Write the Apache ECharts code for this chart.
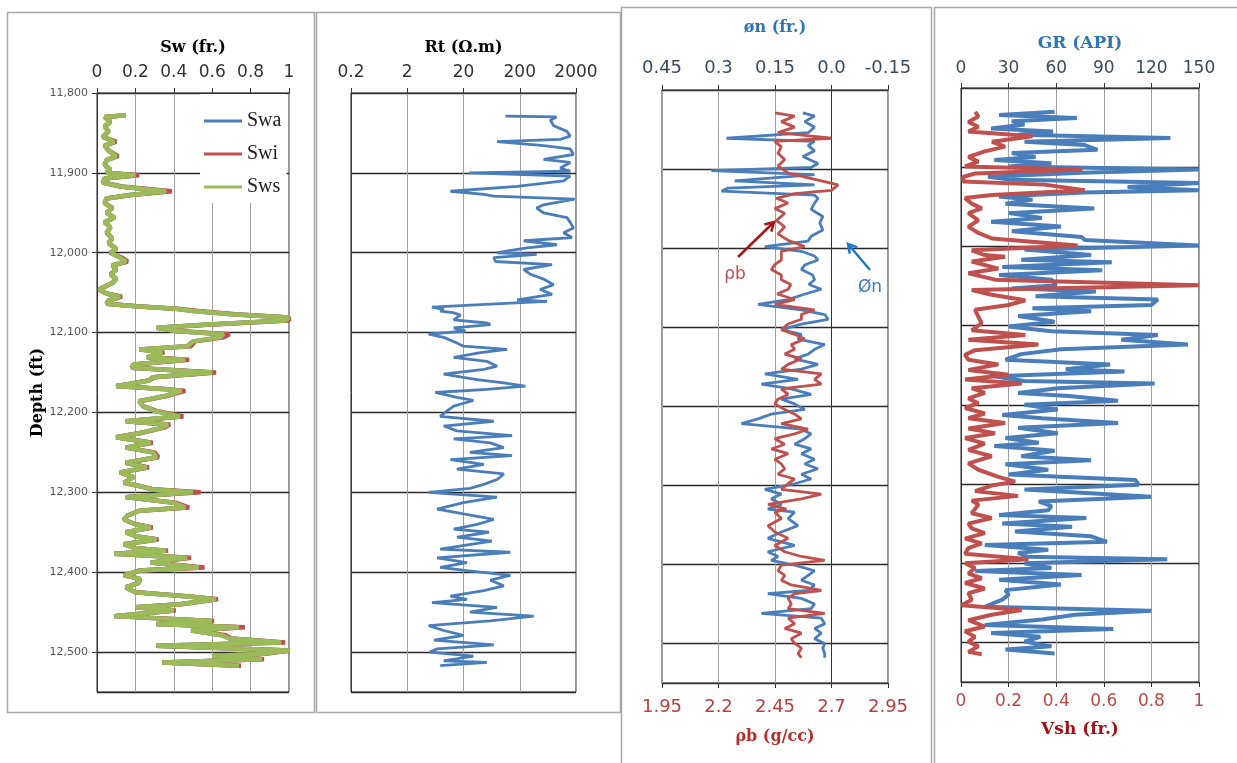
<!DOCTYPE html>
<html><head><meta charset="utf-8">
<script src="https://cdn.jsdelivr.net/npm/echarts@6.0.0/dist/echarts.min.js"></script>
<style>html,body{margin:0;padding:0;background:#fff}#chart{width:1237px;height:763px}</style>
</head><body><div id="chart"></div>
<script>
// ---------- data ----------
const swDepth = [11828,11830,11836,11842,11848,11855,11861,11866,11872,11879,11884,11890,11896,11900,11903,11907,11912,11917,11923,11928,11932,11938,11944,11950,11956,11962,11968,11975,11982,11988,11995,12000,12006,12011,12016,12021,12027,12033,12038,12046,12051,12055,12060,12064,12067,12070,12073,12077,12081,12085,12090,12094,12098,12102,12106,12111,12117,12121,12125,12131,12134,12140,12144,12150,12156,12160,12167,12171,12173,12179,12186,12192,12198,12205,12211,12215,12219,12225,12231,12238,12244,12250,12256,12263,12269,12275,12281,12288,12292,12296,12300,12306,12313,12319,12323,12329,12334,12340,12344,12350,12355,12359,12365,12370,12373,12377,12382,12388,12394,12398,12404,12408,12413,12419,12425,12430,12434,12440,12444,12448,12455,12461,12465,12469,12473,12479,12483,12488,12492,12498,12502,12505,12509,12513,12517];
const swaValues = [0.15,0.04,0.07,0.04,0.06,0.03,0.09,0.04,0.06,0.10,0.05,0.04,0.07,0.05,0.20,0.04,0.03,0.12,0.36,0.16,0.05,0.04,0.08,0.05,0.09,0.04,0.07,0.05,0.08,0.06,0.10,0.07,0.12,0.15,0.08,0.10,0.07,0.10,0.08,0.01,0.05,0.12,0.06,0.05,0.20,0.40,0.50,0.70,1.00,0.98,0.58,0.31,0.41,0.66,0.64,0.50,0.47,0.22,0.34,0.26,0.46,0.19,0.18,0.60,0.29,0.27,0.10,0.36,0.44,0.36,0.22,0.24,0.30,0.43,0.15,0.37,0.34,0.24,0.10,0.28,0.15,0.29,0.31,0.15,0.26,0.12,0.19,0.14,0.22,0.28,0.50,0.15,0.40,0.46,0.22,0.16,0.14,0.20,0.28,0.15,0.20,0.31,0.14,0.20,0.36,0.09,0.47,0.28,0.53,0.22,0.14,0.22,0.22,0.15,0.20,0.46,0.62,0.43,0.20,0.40,0.09,0.60,0.31,0.74,0.49,0.65,0.69,0.96,0.31,1.00,0.86,0.60,0.86,0.34,0.74];
const swiValues = [0.15,0.04,0.07,0.04,0.06,0.03,0.10,0.04,0.06,0.11,0.05,0.04,0.07,0.05,0.22,0.04,0.03,0.13,0.39,0.17,0.05,0.04,0.08,0.05,0.09,0.04,0.07,0.05,0.08,0.06,0.10,0.07,0.13,0.16,0.08,0.10,0.07,0.10,0.08,0.01,0.05,0.13,0.06,0.05,0.21,0.42,0.53,0.72,1.00,1.00,0.60,0.32,0.42,0.69,0.66,0.51,0.49,0.22,0.35,0.26,0.48,0.19,0.18,0.62,0.30,0.27,0.10,0.37,0.46,0.37,0.22,0.24,0.31,0.45,0.15,0.38,0.35,0.24,0.10,0.29,0.15,0.30,0.32,0.15,0.27,0.12,0.19,0.14,0.22,0.29,0.54,0.15,0.41,0.48,0.22,0.16,0.14,0.20,0.29,0.15,0.20,0.32,0.14,0.20,0.37,0.09,0.49,0.28,0.56,0.22,0.14,0.22,0.22,0.15,0.20,0.47,0.63,0.44,0.20,0.41,0.09,0.61,0.31,0.77,0.50,0.67,0.70,0.98,0.31,1.00,0.88,0.61,0.87,0.34,0.75];
const swsValues = [0.15,0.04,0.07,0.04,0.06,0.03,0.09,0.04,0.06,0.10,0.05,0.04,0.07,0.05,0.20,0.04,0.03,0.12,0.36,0.16,0.05,0.04,0.08,0.05,0.09,0.04,0.07,0.05,0.08,0.06,0.10,0.07,0.12,0.15,0.08,0.10,0.07,0.10,0.08,0.01,0.05,0.12,0.06,0.05,0.20,0.40,0.50,0.70,1.00,0.98,0.58,0.31,0.41,0.66,0.64,0.50,0.47,0.22,0.34,0.26,0.46,0.19,0.18,0.60,0.29,0.27,0.10,0.36,0.44,0.36,0.22,0.24,0.30,0.43,0.15,0.37,0.34,0.24,0.10,0.28,0.15,0.29,0.31,0.15,0.26,0.12,0.19,0.14,0.22,0.28,0.50,0.15,0.40,0.46,0.22,0.16,0.14,0.20,0.28,0.15,0.20,0.31,0.14,0.20,0.36,0.09,0.47,0.28,0.53,0.22,0.14,0.22,0.22,0.15,0.20,0.46,0.62,0.43,0.20,0.40,0.09,0.60,0.31,0.74,0.49,0.65,0.69,0.96,0.31,1.00,0.86,0.60,0.86,0.34,0.74];

const rtDepth = [11829,11830,11834,11841,11848,11854,11858,11861,11866,11870,11877,11883,11887,11894,11898,11900,11904,11910,11917,11923,11927,11929,11933,11940,11944,11950,11956,11962,11969,11975,11981,11985,11990,11994,12000,12002,12006,12011,12015,12021,12027,12033,12040,12046,12052,12059,12061,12065,12068,12071,12073,12075,12078,12084,12088,12090,12094,12098,12102,12106,12113,12117,12121,12125,12131,12136,12142,12146,12152,12159,12163,12167,12171,12175,12181,12185,12192,12198,12205,12211,12217,12223,12229,12233,12238,12244,12250,12254,12259,12265,12271,12277,12284,12290,12295,12300,12306,12313,12321,12327,12334,12340,12346,12350,12356,12361,12371,12375,12382,12388,12394,12398,12404,12410,12417,12423,12430,12434,12438,12444,12450,12455,12461,12467,12473,12479,12485,12491,12496,12500,12505,12511,12513,12517];
const rtValues = [111,900,700,800,1380,1580,1050,79,530,1580,1800,530,1580,1050,1580,25,1580,1200,180,11.7,46,69,1900,530,400,530,1380,1580,1800,1200,1700,235,920,270,79,400,69,74,750,235,310,530,800,460,750,180,610,40,5.5,8.9,7.7,13,17.6,13.4,52,60,13.4,21.6,4.8,8.9,15.3,20,119,40,13.4,52,79,46,8.9,35,104,251,52,6.3,15.3,30,13.4,10.2,7.7,69,8.9,15.3,146,13.4,60,104,26,146,11.7,46,15.3,104,79,46,26,4.8,79,20,6.8,20,69,35,13.4,57,15.3,64,7.7,136,6.8,23,7.7,23,136,60,104,46,11.7,23,5.5,79,26,353,60,4.8,8.9,20,6,69,6.8,5,30,8.9,52,7.7];

const phiDepth = [11829,11833,11840,11847,11854,11861,11865,11870,11877,11884,11893,11898,11902,11907,11915,11920,11924,11928,11933,11937,11943,11951,11960,11968,11977,11985,11991,11998,12004,12010,12015,12021,12027,12034,12040,12046,12052,12058,12065,12071,12078,12084,12090,12096,12103,12109,12115,12122,12128,12134,12140,12147,12153,12159,12166,12172,12178,12185,12191,12197,12204,12210,12216,12222,12229,12235,12241,12248,12254,12260,12267,12273,12279,12286,12292,12298,12305,12311,12317,12324,12330,12334,12342,12351,12359,12367,12376,12384,12390,12395,12401,12408,12414,12420,12426,12433,12437,12443,12450,12456,12462,12468,12475,12481,12487,12494,12500,12506,12513,12518];
const phiValues = [0.076,0.045,0.071,0.045,0.062,0.279,0.045,0.062,0.045,0.076,0.036,0.054,0.319,0.045,0.257,0.045,0.275,0.292,0.045,0.036,0.045,0.054,0.023,0.031,0.023,0.054,0.062,0.177,0.080,0.045,0.036,0.070,0.080,0.050,0.045,0.060,0.027,0.070,0.115,0.195,0.080,0.018,0.009,0.080,0.133,0.080,0.089,0.018,0.045,0.062,0.098,0.036,0.080,0.177,0.089,0.186,0.107,0.054,0.133,0.098,0.071,0.160,0.195,0.239,0.080,0.054,0.071,0.098,0.054,0.080,0.045,0.071,0.036,0.080,0.054,0.098,0.177,0.133,0.160,0.133,0.169,0.098,0.115,0.089,0.133,0.169,0.098,0.169,0.142,0.160,0.098,0.045,0.062,0.080,0.045,0.062,0.169,0.080,0.045,0.054,0.186,0.027,0.018,0.045,0.027,0.045,0.018,0.023,0.018,0.018];

const rhoDepth = [11829,11833,11840,11847,11854,11861,11865,11872,11880,11888,11896,11905,11915,11920,11927,11931,11937,11943,11950,11956,11965,11973,11982,11990,11998,12004,12015,12021,12027,12034,12040,12046,12052,12058,12065,12071,12078,12084,12090,12096,12103,12109,12115,12122,12128,12134,12140,12147,12153,12159,12166,12172,12178,12185,12191,12197,12204,12210,12216,12222,12229,12235,12241,12248,12254,12260,12267,12273,12279,12286,12292,12298,12305,12311,12317,12324,12330,12334,12342,12351,12359,12367,12376,12384,12390,12395,12401,12408,12414,12420,12426,12433,12437,12443,12450,12456,12462,12468,12475,12481,12487,12494,12500,12506,12513,12518];
const rhoValues = [2.450,2.537,2.478,2.537,2.463,2.699,2.449,2.478,2.463,2.493,2.463,2.508,2.655,2.729,2.699,2.537,2.456,2.508,2.449,2.493,2.456,2.493,2.463,2.508,2.581,2.478,2.478,2.449,2.434,2.478,2.478,2.520,2.508,2.460,2.537,2.449,2.625,2.567,2.567,2.508,2.478,2.537,2.581,2.522,2.537,2.493,2.567,2.508,2.478,2.655,2.625,2.655,2.478,2.508,2.463,2.449,2.493,2.537,2.567,2.478,2.596,2.537,2.449,2.493,2.434,2.508,2.449,2.478,2.493,2.463,2.537,2.508,2.478,2.655,2.567,2.419,2.500,2.449,2.478,2.419,2.449,2.508,2.449,2.493,2.567,2.670,2.478,2.463,2.493,2.478,2.522,2.655,2.537,2.508,2.522,2.508,2.670,2.508,2.537,2.493,2.567,2.522,2.537,2.567,2.552,2.567];

const grDepth = [11830,11834,11838,11842,11846,11851,11855,11859,11863,11868,11872,11878,11882,11887,11891,11895,11899,11903,11907,11912,11916,11920,11925,11929,11932,11937,11941,11946,11952,11958,11964,11969,11975,11981,11988,11992,11999,12004,12011,12017,12020,12026,12030,12036,12042,12049,12053,12057,12063,12067,12074,12078,12082,12088,12095,12101,12107,12112,12118,12124,12130,12136,12143,12149,12155,12158,12164,12170,12173,12179,12185,12189,12195,12200,12206,12213,12217,12223,12229,12236,12242,12248,12252,12258,12265,12270,12275,12282,12288,12295,12301,12307,12316,12322,12328,12333,12339,12343,12350,12354,12360,12366,12373,12377,12383,12387,12392,12395,12400,12406,12410,12415,12421,12427,12434,12440,12446,12455,12460,12465,12471,12478,12483,12488,12493,12499,12505,12509,12514];
const grValues = [59,24,73,32,40,19,58,36,132,40,78,86,32,47,21,57,30,150,76,17,32,150,105,150,78,24,45,28,84,30,51,19,63,32,76,78,150,40,82,38,95,26,89,24,57,60,32,85,47,124,120,45,82,36,59,30,57,124,101,143,63,38,28,94,66,103,21,40,122,61,36,68,99,40,61,26,51,99,36,61,28,49,21,59,38,82,28,55,30,110,112,40,120,49,57,55,24,79,26,70,34,82,92,15,55,36,42,130,40,57,9,76,24,63,28,30,26,15,120,72,51,15,96,19,50,40,57,28,59];

const vshDepth = [11830,11836,11843,11849,11855,11861,11868,11874,11880,11887,11893,11899,11903,11908,11912,11918,11922,11929,11935,11939,11946,11952,11958,11967,11975,11983,11990,11999,12005,12011,12013,12019,12028,12034,12042,12049,12055,12061,12068,12074,12080,12089,12097,12106,12112,12118,12124,12131,12137,12143,12149,12156,12162,12168,12173,12179,12185,12192,12198,12204,12211,12217,12223,12230,12236,12242,12249,12257,12265,12274,12282,12291,12297,12302,12309,12315,12321,12326,12337,12343,12350,12356,12362,12369,12375,12381,12388,12395,12400,12406,12413,12419,12425,12432,12438,12446,12453,12459,12465,12472,12480,12486,12493,12499,12505,12512,12515];
const vshValues = [0.06,0.073,0.031,0.073,0.031,0.30,0.13,0.185,0.10,0.031,0.073,0.017,0.51,0.06,0.01,0.01,0.35,0.52,0.13,0.017,0.045,0.087,0.031,0.073,0.031,0.073,0.13,0.49,0.045,0.10,0.185,0.045,0.157,0.031,0.143,1.0,0.045,0.129,0.27,0.20,0.059,0.073,0.087,0.045,0.27,0.031,0.325,0.059,0.017,0.031,0.157,0.031,0.20,0.017,0.255,0.045,0.10,0.031,0.073,0.017,0.10,0.031,0.185,0.031,0.143,0.017,0.10,0.031,0.129,0.031,0.073,0.157,0.227,0.129,0.059,0.24,0.045,0.073,0.045,0.129,0.031,0.045,0.10,0.017,0.087,0.031,0.017,0.283,0.017,0.059,0.031,0.087,0.017,0.10,0.031,0.045,0.003,0.255,0.129,0.031,0.10,0.017,0.059,0.031,0.073,0.031,0.087];

const rtTickValues = [0.2, 2, 20, 200, 2000];
const rhoTickValues = [1.95, 2.2, 2.45, 2.7, 2.95];

// ---------- chart ----------
const BLUE = '#4a7ebb', RED = '#c0504d', GREEN = '#9bbb59';
const pairs = (vals, depths) => depths.map((d, i) => [vals[i], d]);
const SANS = 'DejaVu Sans', SERIF = 'DejaVu Serif';

function depthAxis(g, withLabels) {
  const a = {
    gridIndex: g, type: 'value', inverse: true, min: 11800, max: 12550, interval: 100,
    axisLine: { show: true, lineStyle: { color: '#333', width: 1 } },
    axisTick: { show: withLabels, length: 5, lineStyle: { color: '#333' } },
    axisLabel: { show: withLabels, showMaxLabel: false, fontSize: 11, color: '#555', fontFamily: SANS, margin: 9 },
    splitLine: { show: true, lineStyle: { color: '#2b2b2b', width: 1.3 } }
  };
  if (withLabels) {
    a.name = 'Depth (ft)'; a.nameLocation = 'middle'; a.nameGap = 44; a.nameRotate = 90;
    a.nameTextStyle = { fontFamily: SERIF, fontWeight: 'bold', fontSize: 16, color: '#000' };
  }
  return a;
}
function valAxis(o) {
  return Object.assign({
    type: 'value', nameLocation: 'middle',
    axisLine: { show: true, lineStyle: { color: '#333' } },
    axisTick: { show: true, length: 5, lineStyle: { color: '#333' } },
    splitLine: { show: true, lineStyle: { color: '#a0a0a0', width: 1 } }
  }, o);
}
const gridStyle = { show: true, borderColor: '#2b2b2b', borderWidth: 1, backgroundColor: 'transparent' };

const option = {
  backgroundColor: '#fff',
  animation: false,
  grid: [
    Object.assign({ left: 97, top: 93, width: 192, height: 599 }, gridStyle),
    Object.assign({ left: 351, top: 93, width: 225, height: 599 }, gridStyle),
    Object.assign({ left: 662, top: 90, width: 226, height: 593 }, gridStyle),
    Object.assign({ left: 961, top: 88, width: 238, height: 594 }, gridStyle)
  ],
  xAxis: [
    valAxis({ gridIndex: 0, position: 'top', min: 0, max: 1, interval: 0.2,
      name: 'Sw (fr.)', nameGap: 37,
      nameTextStyle: { fontFamily: SERIF, fontWeight: 'bold', fontSize: 16, color: '#000' },
      axisLabel: { fontFamily: SANS, fontSize: 17, color: '#333', margin: 12 } }),
    valAxis({ gridIndex: 1, type: 'log', logBase: 10, position: 'top', min: 0.2, max: 2000,
      name: 'Rt (\u03A9.m)', nameGap: 37,
      nameTextStyle: { fontFamily: SERIF, fontWeight: 'bold', fontSize: 16, color: '#000' },
      axisTick: { show: true, length: 5, lineStyle: { color: '#333' }, customValues: rtTickValues },
      axisLabel: { fontFamily: SANS, fontSize: 17, color: '#333', margin: 12, customValues: rtTickValues,
        formatter: v => String(+(+v).toPrecision(3)) } }),
    valAxis({ gridIndex: 2, position: 'top', min: -0.15, max: 0.45, interval: 0.15, inverse: true,
      name: '\u00F8n (fr.)', nameGap: 54,
      nameTextStyle: { fontFamily: SERIF, fontWeight: 'bold', fontSize: 16, color: '#2e75b6' },
      axisLabel: { fontFamily: SANS, fontSize: 18, color: '#3c4a60', margin: 13,
        formatter: v => Math.abs(v) < 1e-9 ? '0.0' : String(+(+v).toFixed(2)) } }),
    valAxis({ gridIndex: 2, position: 'bottom', min: 1.95, max: 2.95,
      name: '\u03C1b (g/cc)', nameGap: 46,
      nameTextStyle: { fontFamily: SERIF, fontWeight: 'bold', fontSize: 16, color: '#b5302c' },
      splitLine: { show: false },
      axisTick: { show: true, length: 5, lineStyle: { color: '#333' }, customValues: rhoTickValues },
      axisLabel: { fontFamily: SANS, fontSize: 18, color: '#b5403d', margin: 15, customValues: rhoTickValues,
        formatter: v => String(+(+v).toFixed(2)) } }),
    valAxis({ gridIndex: 3, position: 'top', min: 0, max: 150, interval: 30,
      name: 'GR (API)', nameGap: 36,
      nameTextStyle: { fontFamily: SERIF, fontWeight: 'bold', fontSize: 17, color: '#2e75b6' },
      axisLabel: { fontFamily: SANS, fontSize: 17, color: '#3b4b5e', margin: 11 } }),
    valAxis({ gridIndex: 3, position: 'bottom', min: 0, max: 1, interval: 0.2,
      name: 'Vsh (fr.)', nameGap: 39,
      nameTextStyle: { fontFamily: SERIF, fontWeight: 'bold', fontSize: 17, color: '#a50f15' },
      splitLine: { show: false },
      axisLabel: { fontFamily: SANS, fontSize: 17, color: '#b94a48', margin: 11 } })
  ],
  yAxis: [depthAxis(0, true), depthAxis(1, false), depthAxis(2, false), depthAxis(3, false)],
  legend: {
    data: ['Swa', 'Swi', 'Sws'], orient: 'vertical', left: 200, top: 94,
    icon: 'rect', itemWidth: 38, itemHeight: 3, itemGap: 13,
    padding: [17, 5, 6, 4], backgroundColor: '#fff',
    textStyle: { fontFamily: 'Liberation Serif', fontSize: 20, color: '#222' }
  },
  series: [
    { name: 'Swa', type: 'line', xAxisIndex: 0, yAxisIndex: 0, data: pairs(swaValues, swDepth), showSymbol: false, symbol: 'none',
      itemStyle: { color: BLUE }, lineStyle: { color: BLUE, width: 4.5 }, z: 2 },
    { name: 'Swi', type: 'line', xAxisIndex: 0, yAxisIndex: 0, data: pairs(swiValues, swDepth), showSymbol: false, symbol: 'none',
      itemStyle: { color: RED }, lineStyle: { color: RED, width: 4.5 }, z: 3 },
    { name: 'Sws', type: 'line', xAxisIndex: 0, yAxisIndex: 0, data: pairs(swsValues, swDepth), showSymbol: false, symbol: 'none',
      itemStyle: { color: GREEN }, lineStyle: { color: GREEN, width: 4.5 }, z: 4 },
    { name: 'Rt', type: 'line', xAxisIndex: 1, yAxisIndex: 1, data: pairs(rtValues, rtDepth), symbol: 'none',
      lineStyle: { color: BLUE, width: 2.8 } },
    { name: 'øn', type: 'line', xAxisIndex: 2, yAxisIndex: 2, data: pairs(phiValues, phiDepth), symbol: 'none',
      lineStyle: { color: BLUE, width: 2.8 } },
    { name: 'ρb', type: 'line', xAxisIndex: 3, yAxisIndex: 2, data: pairs(rhoValues, rhoDepth), symbol: 'none',
      lineStyle: { color: RED, width: 2.8 } },
    { name: 'GR', type: 'line', xAxisIndex: 4, yAxisIndex: 3, data: pairs(grValues, grDepth), symbol: 'none',
      lineStyle: { color: BLUE, width: 4 } },
    { name: 'Vsh', type: 'line', xAxisIndex: 5, yAxisIndex: 3, data: pairs(vshValues, vshDepth), symbol: 'none',
      lineStyle: { color: RED, width: 4 } }
  ],
  graphic: [
    { type: 'rect', silent: true, shape: { x: 7.5, y: 12.5, width: 307, height: 700 }, style: { fill: 'none', stroke: '#a8a8a8', lineWidth: 1.5 } },
    { type: 'rect', silent: true, shape: { x: 316.5, y: 12.5, width: 304, height: 700 }, style: { fill: 'none', stroke: '#a8a8a8', lineWidth: 1.5 } },
    { type: 'rect', silent: true, shape: { x: 621.5, y: 7.5, width: 310, height: 770 }, style: { fill: 'none', stroke: '#a8a8a8', lineWidth: 1.5 } },
    { type: 'rect', silent: true, shape: { x: 934.5, y: 7.5, width: 320, height: 770 }, style: { fill: 'none', stroke: '#a8a8a8', lineWidth: 1.5 } },
    { type: 'polyline', silent: true, z: 100, shape: { points: [[738, 257], [774, 222]] }, style: { stroke: '#a31515', lineWidth: 2.5, fill: 'none' } },
    { type: 'polyline', silent: true, z: 100, shape: { points: [[764.3, 224.5], [774, 222], [771.3, 231.6]] }, style: { stroke: '#a31515', lineWidth: 2.5, fill: 'none' } },
    { type: 'polyline', silent: true, z: 100, shape: { points: [[870, 270], [848, 244]] }, style: { stroke: '#1f78c1', lineWidth: 2.5, fill: 'none' } },
    { type: 'polyline', silent: true, z: 100, shape: { points: [[849.8, 253.8], [848, 244], [857.4, 247.4]] }, style: { stroke: '#1f78c1', lineWidth: 2.5, fill: 'none' } },
    { type: 'text', silent: true, z: 100, x: 735, y: 275, style: { text: '\u03C1b', fill: '#c0504d', font: '17px "DejaVu Sans"', textAlign: 'center', textVerticalAlign: 'middle' } },
    { type: 'text', silent: true, z: 100, x: 870, y: 288, style: { text: '\u00D8n', fill: '#3a7ebf', font: '17px "DejaVu Sans"', textAlign: 'center', textVerticalAlign: 'middle' } }
  ]
};
const chart = echarts.init(document.getElementById('chart'), null, { renderer: 'canvas' });
chart.setOption(option);
</script></body></html>
